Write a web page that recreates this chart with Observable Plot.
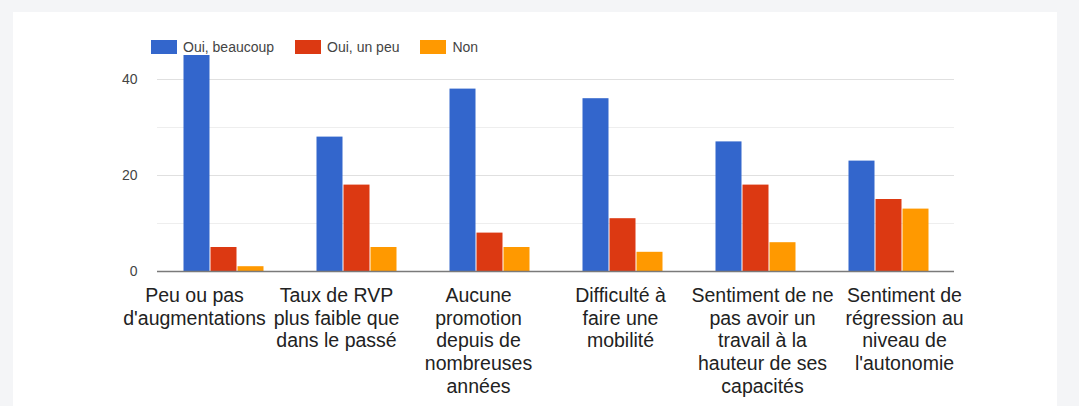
<!DOCTYPE html>
<html>
<head>
<meta charset="utf-8">
<script src="https://cdn.jsdelivr.net/npm/d3@7"></script>
<script src="https://cdn.jsdelivr.net/npm/@observablehq/plot@0.6"></script>
<style>
  html, body { margin: 0; padding: 0; background: #f4f5f7; width: 1079px; height: 406px; overflow: hidden; }
  #card { position: absolute; left: 13px; top: 12px; width: 1044px; height: 394px; background: #fff; }
  .layer { position: absolute; left: 0; top: 0; }
  #legend { position: absolute; left: 151px; top: 30px; font-family: "Liberation Sans", Arial, sans-serif; }
  #legend [class$="-swatch"] { margin-right: 21px !important; }
  #legend [class$="-swatch"] > svg { margin-right: 6px !important; }
</style>
</head>
<body>
<div id="card"></div>
<div id="grid" class="layer"></div>
<div id="bars" class="layer"></div>
<div id="axes" class="layer"></div>
<div id="labels" class="layer"></div>
<div id="legend"></div>
<script>
const categories = [
  "Peu ou pas d'augmentations",
  "Taux de RVP plus faible que dans le passé",
  "Aucune promotion depuis de nombreuses années",
  "Difficulté à faire une mobilité",
  "Sentiment de ne pas avoir un travail à la hauteur de ses capacités",
  "Sentiment de régression au niveau de l'autonomie"
];
const categoryLabels = [
  "Peu ou pas\nd'augmentations",
  "Taux de RVP\nplus faible que\ndans le passé",
  "Aucune\npromotion\ndepuis de\nnombreuses\nannées",
  "Difficulté à\nfaire une\nmobilité",
  "Sentiment de ne\npas avoir un\ntravail à la\nhauteur de ses\ncapacités",
  "Sentiment de\nrégression au\nniveau de\nl'autonomie"
];
const series = ["Oui, beaucoup", "Oui, un peu", "Non"];
const colors = ["#3366cc", "#dc3912", "#ff9900"];
const ouiBeaucoup = [45, 28, 38, 36, 27, 23];
const ouiUnPeu = [5, 18, 8, 11, 18, 15];
const non = [1, 5, 5, 4, 6, 13];
const yTicks = [0, 20, 40];
const majorGrid = [20, 40];
const minorGrid = [10, 30];

const seriesValues = [ouiBeaucoup, ouiUnPeu, non];
const data = [];
categories.forEach((c, i) => {
  series.forEach((s, j) => data.push({category: c, series: s, value: seriesValues[j][i]}));
});
const labelOf = new Map(categories.map((c, i) => [c, categoryLabels[i]]));

const font = "'Liberation Sans', Arial, sans-serif";
const frame = {
  width: 1079,
  height: 406,
  marginLeft: 157,
  marginRight: 125,
  marginTop: 31,
  marginBottom: 135,
  style: {fontFamily: font, background: "transparent", overflow: "visible"}
};
const yScale = {domain: [0, 50], axis: null};

// Layer 1: grid lines (behind the bars)
const grid = Plot.plot({
  ...frame,
  y: yScale,
  marks: [
    Plot.ruleY(minorGrid, {stroke: "#eeeeee", strokeWidth: 1}),
    Plot.ruleY(majorGrid, {stroke: "#e0e0e0", strokeWidth: 1})
  ]
});
document.getElementById("grid").appendChild(grid);

// Layer 2: grouped bars
const bars = Plot.plot({
  ...frame,
  fx: {domain: categories, paddingInner: 0.38, paddingOuter: 0.17, axis: null, label: null},
  x: {domain: series, padding: 0, axis: null},
  y: yScale,
  color: {domain: series, range: colors},
  marks: [
    Plot.barY(data, {fx: "category", x: "series", y: "value", fill: "series", insetLeft: 0.5, insetRight: 0.5})
  ]
});
document.getElementById("bars").appendChild(bars);

// Layer 3: baseline and value axis (on top)
const axes = Plot.plot({
  ...frame,
  y: yScale,
  marks: [
    Plot.ruleY([0], {stroke: "#7a7a7a", strokeWidth: 1.5}),
    Plot.axisY({ticks: yTicks, label: null, tickSize: 0, tickPadding: 20, fontSize: 14, fill: "#444"})
  ]
});
document.getElementById("axes").appendChild(axes);

// Layer 4: category labels (the source spreads them slightly wider than the bar groups)
const labels = Plot.plot({
  ...frame,
  marginLeft: 121,
  marginRight: 103,
  x: {type: "band", domain: categories, padding: 0, axis: null},
  marks: [
    Plot.axisX({anchor: "bottom", label: null, tickSize: 0, tickPadding: 14, fontSize: 19.5, lineHeight: 1.17, fill: "#222",
      tickFormat: (d) => labelOf.get(d)})
  ]
});
document.getElementById("labels").appendChild(labels);

const legend = Plot.legend({
  color: {domain: series, range: colors},
  swatchWidth: 26,
  swatchHeight: 14,
  style: {fontFamily: font, fontSize: "14px", color: "#444", margin: "0"}
});
document.getElementById("legend").appendChild(legend);
</script>
</body>
</html>
